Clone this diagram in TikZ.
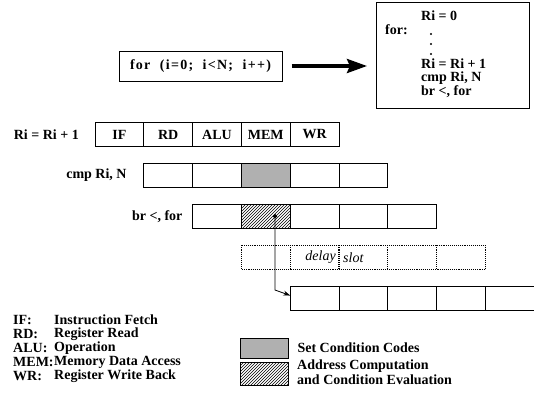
\documentclass[tikz,border=0pt]{standalone}
\usepackage{fontspec}
\setmainfont{Liberation Serif}
\usetikzlibrary{positioning, patterns, arrows.meta}

\tikzset{
  stage/.style={draw, line width=0.9pt, minimum width=48.8pt, minimum height=24.5pt,
                inner sep=0pt, outer sep=0pt},
  slotbox/.style={stage, draw=none},
  slotline/.style={densely dotted, line width=1.1pt},
  setcc/.style={fill=gray!62},
  addrcomp/.style={pattern=north east lines},
  rowlabel/.style={inner sep=0pt},
  codeline/.style={anchor=west, inner sep=0pt},
  legendtxt/.style={anchor=west, inner sep=0pt},
}

\begin{document}
\fontsize{14}{16}\selectfont\bfseries
\begin{tikzpicture}[x=1pt, y=-1pt]
    \useasboundingbox (0,0) rectangle (534,396);
    \clip (0,0) rectangle (534,396);

    % The source loop and its code
    \node[draw, line width=1pt, minimum width=163pt, minimum height=30pt] (loop) at (200.5,66)
        {\addfontfeature{LetterSpace=9}for\ \ (i=0;\ \ i<N;\ \ i++)};
    \node[draw, line width=1pt, minimum width=153pt, minimum height=106pt, anchor=north west] (code) at (376,2) {};
    \coordinate (loopend) at (367,66);
    \draw[line width=3.5pt, -{Stealth[length=20pt, width=14pt, inset=3pt]}, shorten <=9pt] (loop) -- (loopend);

    \node[codeline] (c0)   at (421,16) {Ri = 0};
    \node[codeline] (cfor) at (385,30) {for:};
    \foreach \k in {0,1,2}
        \fill (431,34+10*\k) circle (1.2pt);
    \node[codeline] (c1)   at (421,64) {Ri = Ri + 1};
    \node[codeline] (c2)   at (421,78) {cmp Ri, N};
    \node[codeline] (c3)   at (421,92) {br <, for};

    % Pipeline rows
    \node[stage]                        (add1) at (119.4,134.5) {IF};
    \node[stage, right=0pt of add1]     (add2) {RD};
    \node[stage, right=0pt of add2]     (add3) {ALU};
    \node[stage, right=0pt of add3]     (add4) {MEM};
    \node[stage, right=0pt of add4]     (add5) {WR};
    \node[rowlabel, left=16pt of add1]  (addlbl) {Ri = Ri + 1};

    \node[stage, below=16.5pt of add2]  (cmp1) {};
    \node[stage, right=0pt of cmp1]     (cmp2) {};
    \node[stage, setcc, right=0pt of cmp2] (cmp3) {};
    \node[stage, right=0pt of cmp3]     (cmp4) {};
    \node[stage, right=0pt of cmp4]     (cmp5) {};
    \node[rowlabel, left=17pt of cmp1]  (cmplbl) {cmp Ri, N};

    \node[stage, below=16.5pt of cmp2]  (br1) {};
    \node[stage, addrcomp, right=0pt of br1] (br2) {};
    \node[stage, right=0pt of br2]      (br3) {};
    \node[stage, right=0pt of br3]      (br4) {};
    \node[stage, right=0pt of br4]      (br5) {};
    \node[rowlabel, left=10pt of br1]   (brlbl) {br <, for};

    % Delay slot (dotted)
    \node[slotbox, below=16.5pt of br2] (ds1) {};
    \node[slotbox, right=0pt of ds1]    (ds2) {};
    \node[slotbox, right=0pt of ds2]    (ds3) {};
    \node[slotbox, right=0pt of ds3]    (ds4) {};
    \node[slotbox, right=0pt of ds4]    (ds5) {};
    \draw[slotline] (ds1.north west) rectangle (ds5.south east);
    \foreach \k in {1,2,3,4}
        \draw[slotline] (ds\k.north east) -- (ds\k.south east);
    \node[font=\mdseries\itshape, inner sep=0pt, anchor=east] at ([xshift=-3pt]ds2.east) {delay};
    \node[font=\mdseries\itshape, inner sep=0pt, anchor=west] at ([xshift=4pt]ds3.west) {slot};

    \node[stage, below=16.5pt of ds2]   (tgt1) {};
    \node[stage, right=0pt of tgt1]     (tgt2) {};
    \node[stage, right=0pt of tgt2]     (tgt3) {};
    \node[stage, right=0pt of tgt3]     (tgt4) {};
    \node[stage, right=0pt of tgt4]     (tgt5) {};

    % Branch to the target
    \coordinate (brsrc)  at (275,214);
    \coordinate (brbend) at (275,290);
    \draw[line width=0.8pt, {Circle[length=4.5pt]}-{Stealth[length=7pt, width=5pt]}]
        (brsrc) -- (brbend) -- ([yshift=3pt]tgt1.west);

    % Legend
    \node[legendtxt] (kif)  at (13,320) {IF:};
    \node[legendtxt] (krd)  at (13,334) {RD:};
    \node[legendtxt] (kalu) at (13,348) {ALU:};
    \node[legendtxt] (kmem) at (13,362) {MEM:};
    \node[legendtxt] (kwr)  at (13,376) {WR:};
    \node[legendtxt] at (54,320) {Instruction Fetch};
    \node[legendtxt] at (54,334) {Register Read};
    \node[legendtxt] at (54,348) {Operation};
    \node[legendtxt] at (54,362) {Memory Data Access};
    \node[legendtxt] at (54,376) {Register Write Back};

    \node[draw, setcc, line width=0.6pt, minimum width=48pt, minimum height=20pt, inner sep=0pt] (kcc) at (264,348) {};
    \node[draw, addrcomp, line width=0.6pt, minimum width=48pt, minimum height=23pt, inner sep=0pt] (kac) at (264,373.5) {};
    \node[legendtxt, right=9pt of kcc] {Set Condition Codes};
    \node[legendtxt] at (297,366) {Address Computation};
    \node[legendtxt] at (297,380) {and Condition Evaluation};
\end{tikzpicture}
\end{document}
